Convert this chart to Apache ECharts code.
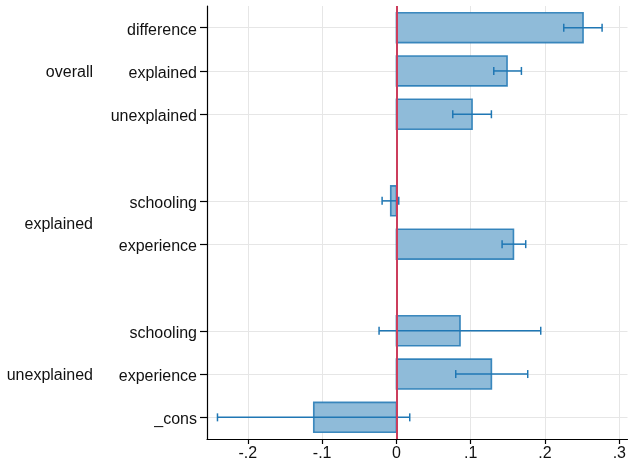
<!DOCTYPE html>
<html>
<head>
<meta charset="utf-8">
<title>Oaxaca decomposition</title>
<script src="https://cdn.jsdelivr.net/npm/echarts@6/dist/echarts.min.js"></script>
<style>
  html, body { margin: 0; padding: 0; background: #fff; }
  #chart { width: 629px; height: 462px; }
</style>
</head>
<body>
<div id="chart"></div>
<script>
// Coefficient labels, one per drawn row
const rowLabels = ['difference', 'explained', 'unexplained', 'schooling', 'experience', 'schooling', 'experience', '_cons'];
// Vertical slot of each row (gaps separate the three equations)
const rowSlots = [0, 1, 2, 4, 5, 7, 8, 9];
// Point estimates and 95% confidence bounds
const estimates = [0.2512, 0.1489, 0.1018, -0.0077, 0.1575, 0.0856, 0.1278, -0.1113];
const ciLower   = [0.2252, 0.1310, 0.0758, -0.0193, 0.1422, -0.0234, 0.0798, -0.2409];
const ciUpper   = [0.2768, 0.1682, 0.1278, 0.0031, 0.1740, 0.1942, 0.1767, 0.0179];
// Equation names and the slots they span
const groupNames = ['overall', 'explained', 'unexplained'];
const groupSlots = [[0, 1, 2], [4, 5], [7, 8, 9]];
// X axis tick values
const xTicks = [-0.2, -0.1, 0, 0.1, 0.2, 0.3];

const FONT = '"Liberation Sans", Arial, Helvetica, sans-serif';
const FONT_SIZE = 16;
const BAR_BLUE = '#1f77b4';

const chart = echarts.init(document.getElementById('chart'), null, { renderer: 'canvas' });

const seriesData = rowLabels.map((_, i) => [estimates[i], rowSlots[i], ciLower[i], ciUpper[i]]);
const slotName = {};
rowSlots.forEach((s, i) => { slotName[s] = rowLabels[i]; });

function fmtX(v) {
  if (Math.abs(v) < 1e-9) return '0';
  const s = Math.abs(v).toFixed(1).replace(/^0/, '');
  return (v < 0 ? '-' : '') + s;
}

const option = {
  animation: false,
  backgroundColor: '#ffffff',
  grid: { left: 207, right: 1, top: 6, bottom: 23, containLabel: false },
  xAxis: {
    type: 'value',
    min: -0.255,
    max: 0.311,
    axisLine: { show: true, onZero: false, lineStyle: { color: '#000', width: 1.2 } },
    axisTick: { show: true, length: 5, customValues: xTicks, lineStyle: { color: '#000', width: 1.2 } },
    axisLabel: {
      customValues: xTicks,
      formatter: fmtX,
      color: '#111',
      fontFamily: FONT,
      fontSize: FONT_SIZE,
      margin: 7
    },
    splitLine: { show: true, lineStyle: { color: '#e6e6e6', width: 1 } }
  },
  yAxis: {
    type: 'value',
    inverse: true,
    min: -0.5,
    max: 9.5,
    axisLine: { show: true, onZero: false, lineStyle: { color: '#000', width: 1.2 } },
    axisTick: { show: true, length: 7, customValues: rowSlots, lineStyle: { color: '#000', width: 1.2 } },
    axisLabel: {
      customValues: rowSlots,
      formatter: v => '{r|' + (slotName[Math.round(v)] || '') + '}',
      rich: {
        r: {
          color: '#111',
          fontFamily: FONT,
          fontSize: FONT_SIZE,
          padding: [5, 0, 0, 0]
        }
      },
      margin: 10
    },
    splitLine: { show: true, lineStyle: { color: '#e6e6e6', width: 1 } }
  },
  series: [
    {
      name: 'estimate',
      type: 'custom',
      z: 2,
      data: seriesData,
      encode: { x: [0, 2, 3], y: 1 },
      renderItem(params, api) {
        const est = api.value(0);
        const slot = api.value(1);
        const p0 = api.coord([0, slot]);
        const p1 = api.coord([est, slot]);
        const h = api.size([0, 1])[1] * 0.69;
        return {
          type: 'rect',
          shape: {
            x: Math.min(p0[0], p1[0]),
            y: p0[1] - h / 2,
            width: Math.abs(p1[0] - p0[0]),
            height: h
          },
          style: { fill: '#8fbbd9', stroke: 'rgba(31,119,180,0.85)', lineWidth: 1.6 }
        };
      },
      markLine: {
        silent: true,
        symbol: ['none', 'none'],
        label: { show: false },
        lineStyle: { color: '#cc3d5c', width: 2, type: 'solid' },
        data: [{ xAxis: 0 }]
      }
    },
    {
      name: 'ci',
      type: 'custom',
      z: 4,
      data: seriesData,
      encode: { x: [0, 2, 3], y: 1 },
      renderItem(params, api) {
        const slot = api.value(1);
        const lo = api.coord([api.value(2), slot]);
        const hi = api.coord([api.value(3), slot]);
        const cap = 4;
        const st = { stroke: BAR_BLUE, lineWidth: 1.5 };
        return {
          type: 'group',
          children: [
            { type: 'line', shape: { x1: lo[0], y1: lo[1], x2: hi[0], y2: hi[1] }, style: st },
            { type: 'line', shape: { x1: lo[0], y1: lo[1] - cap, x2: lo[0], y2: lo[1] + cap }, style: st },
            { type: 'line', shape: { x1: hi[0], y1: hi[1] - cap, x2: hi[0], y2: hi[1] + cap }, style: st }
          ]
        };
      }
    }
  ]
};

chart.setOption(option);

// Equation names, centred on the rows they cover
const groupGraphics = groupNames.map((name, i) => {
  const slots = groupSlots[i];
  const mid = (slots[0] + slots[slots.length - 1]) / 2;
  const pt = chart.convertToPixel({ gridIndex: 0 }, [0, mid]);
  return {
    type: 'text',
    x: 93,
    y: pt[1] + 2,
    style: {
      text: name,
      align: 'right',
      verticalAlign: 'middle',
      fill: '#111',
      font: FONT_SIZE + 'px ' + FONT
    }
  };
});
chart.setOption({ graphic: groupGraphics });
</script>
</body>
</html>
